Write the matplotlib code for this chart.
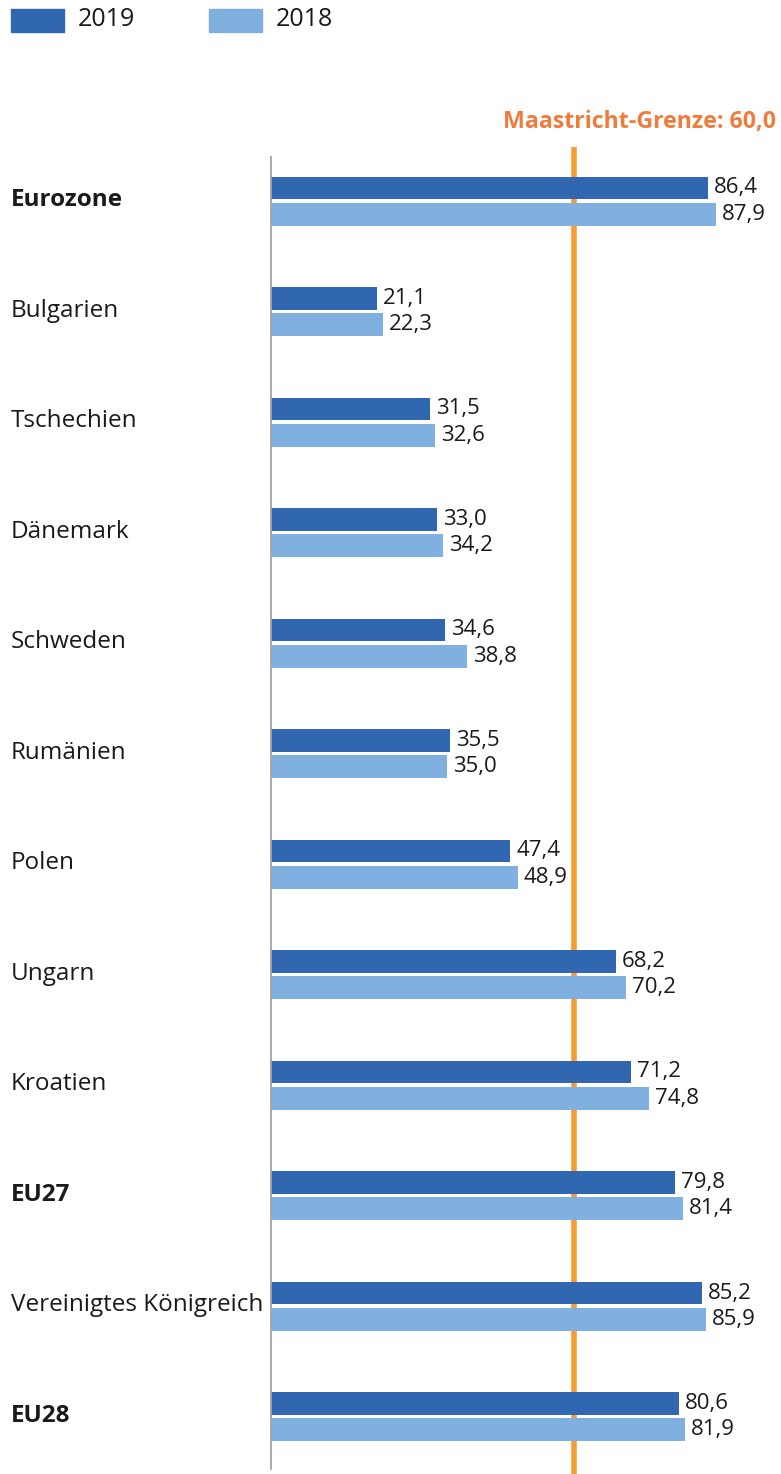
import matplotlib
matplotlib.use("Agg")
import matplotlib.pyplot as plt
import matplotlib.transforms as mtransforms
from matplotlib.patches import Rectangle

plt.rcParams['font.family'] = ['Open Sans', 'DejaVu Sans']

countries = ['Eurozone', 'Bulgarien', 'Tschechien', 'Dänemark', 'Schweden',
             'Rumänien', 'Polen', 'Ungarn', 'Kroatien', 'EU27',
             'Vereinigtes Königreich', 'EU28']
bold = ['Eurozone', 'EU27', 'EU28']
v2019 = [86.4, 21.1, 31.5, 33.0, 34.6, 35.5, 47.4, 68.2, 71.2, 79.8, 85.2, 80.6]
v2018 = [87.9, 22.3, 32.6, 34.2, 38.8, 35.0, 48.9, 70.2, 74.8, 81.4, 85.9, 81.9]
limit = 60.0

c2019 = '#3166b0'
c2018 = '#80b0df'
corange = '#f59c32'

W, H = 781, 1474
fig = plt.figure(figsize=(W / 100, H / 100), dpi=100)
fig.set_facecolor('w')

# axes in pixel terms: left 270, top 147, bottom 1474
ax = fig.add_axes([270 / W, 0, (W - 270) / W, (H - 147) / H])
ax.set_xlim(0, (W - 270) / 5.07)
ax.set_ylim(11.52, -0.489)
ax.axis('off')

y = list(range(len(countries)))
bh = 0.208
off = 0.118
ax.axvline(limit, color=corange, lw=4, zorder=1)
ax.barh([i - off for i in y], v2019, height=bh, color=c2019, zorder=2)
ax.barh([i + off for i in y], v2018, height=bh, color=c2018, zorder=2)
ax.axvline(0, ymin=6 / 1327, ymax=1 - 10 / 1327, color='#a6a6a6', lw=2, zorder=3)

for i, (a, b) in enumerate(zip(v2019, v2018)):
    ax.annotate(f'{a:.1f}'.replace('.', ','), (a, i - off), xytext=(6, 0),
                textcoords='offset pixels', va='center', ha='left',
                fontsize=16, color='#1a1a1a')
    ax.annotate(f'{b:.1f}'.replace('.', ','), (b, i + off), xytext=(6, 0),
                textcoords='offset pixels', va='center', ha='left',
                fontsize=16, color='#1a1a1a')

trans = mtransforms.blended_transform_factory(fig.transFigure, ax.transData)
for i, name in enumerate(countries):
    ax.text(11 / W, i - 0.005, name, transform=trans, ha='left', va='center',
            fontsize=17.5, color='#1a1a1a',
            fontweight='bold' if name in bold else 'normal')

fig.text(776 / W, 1 - 122 / H, 'Maastricht-Grenze: 60,0', ha='right',
         va='center', fontsize=16.7, fontweight='bold', color='#f07c3c')

# legend
for x0, col, lab in [(11, c2019, '2019'), (209, c2018, '2018')]:
    fig.patches.append(Rectangle((x0 / W, 1 - 32 / H), 53 / W, 23 / H,
                                 transform=fig.transFigure, color=col))
    fig.text((x0 + 67) / W, 1 - 20 / H, lab, ha='left', va='center',
             fontsize=18, color='#1a1a1a')

fig.savefig('out.png', dpi=100)
